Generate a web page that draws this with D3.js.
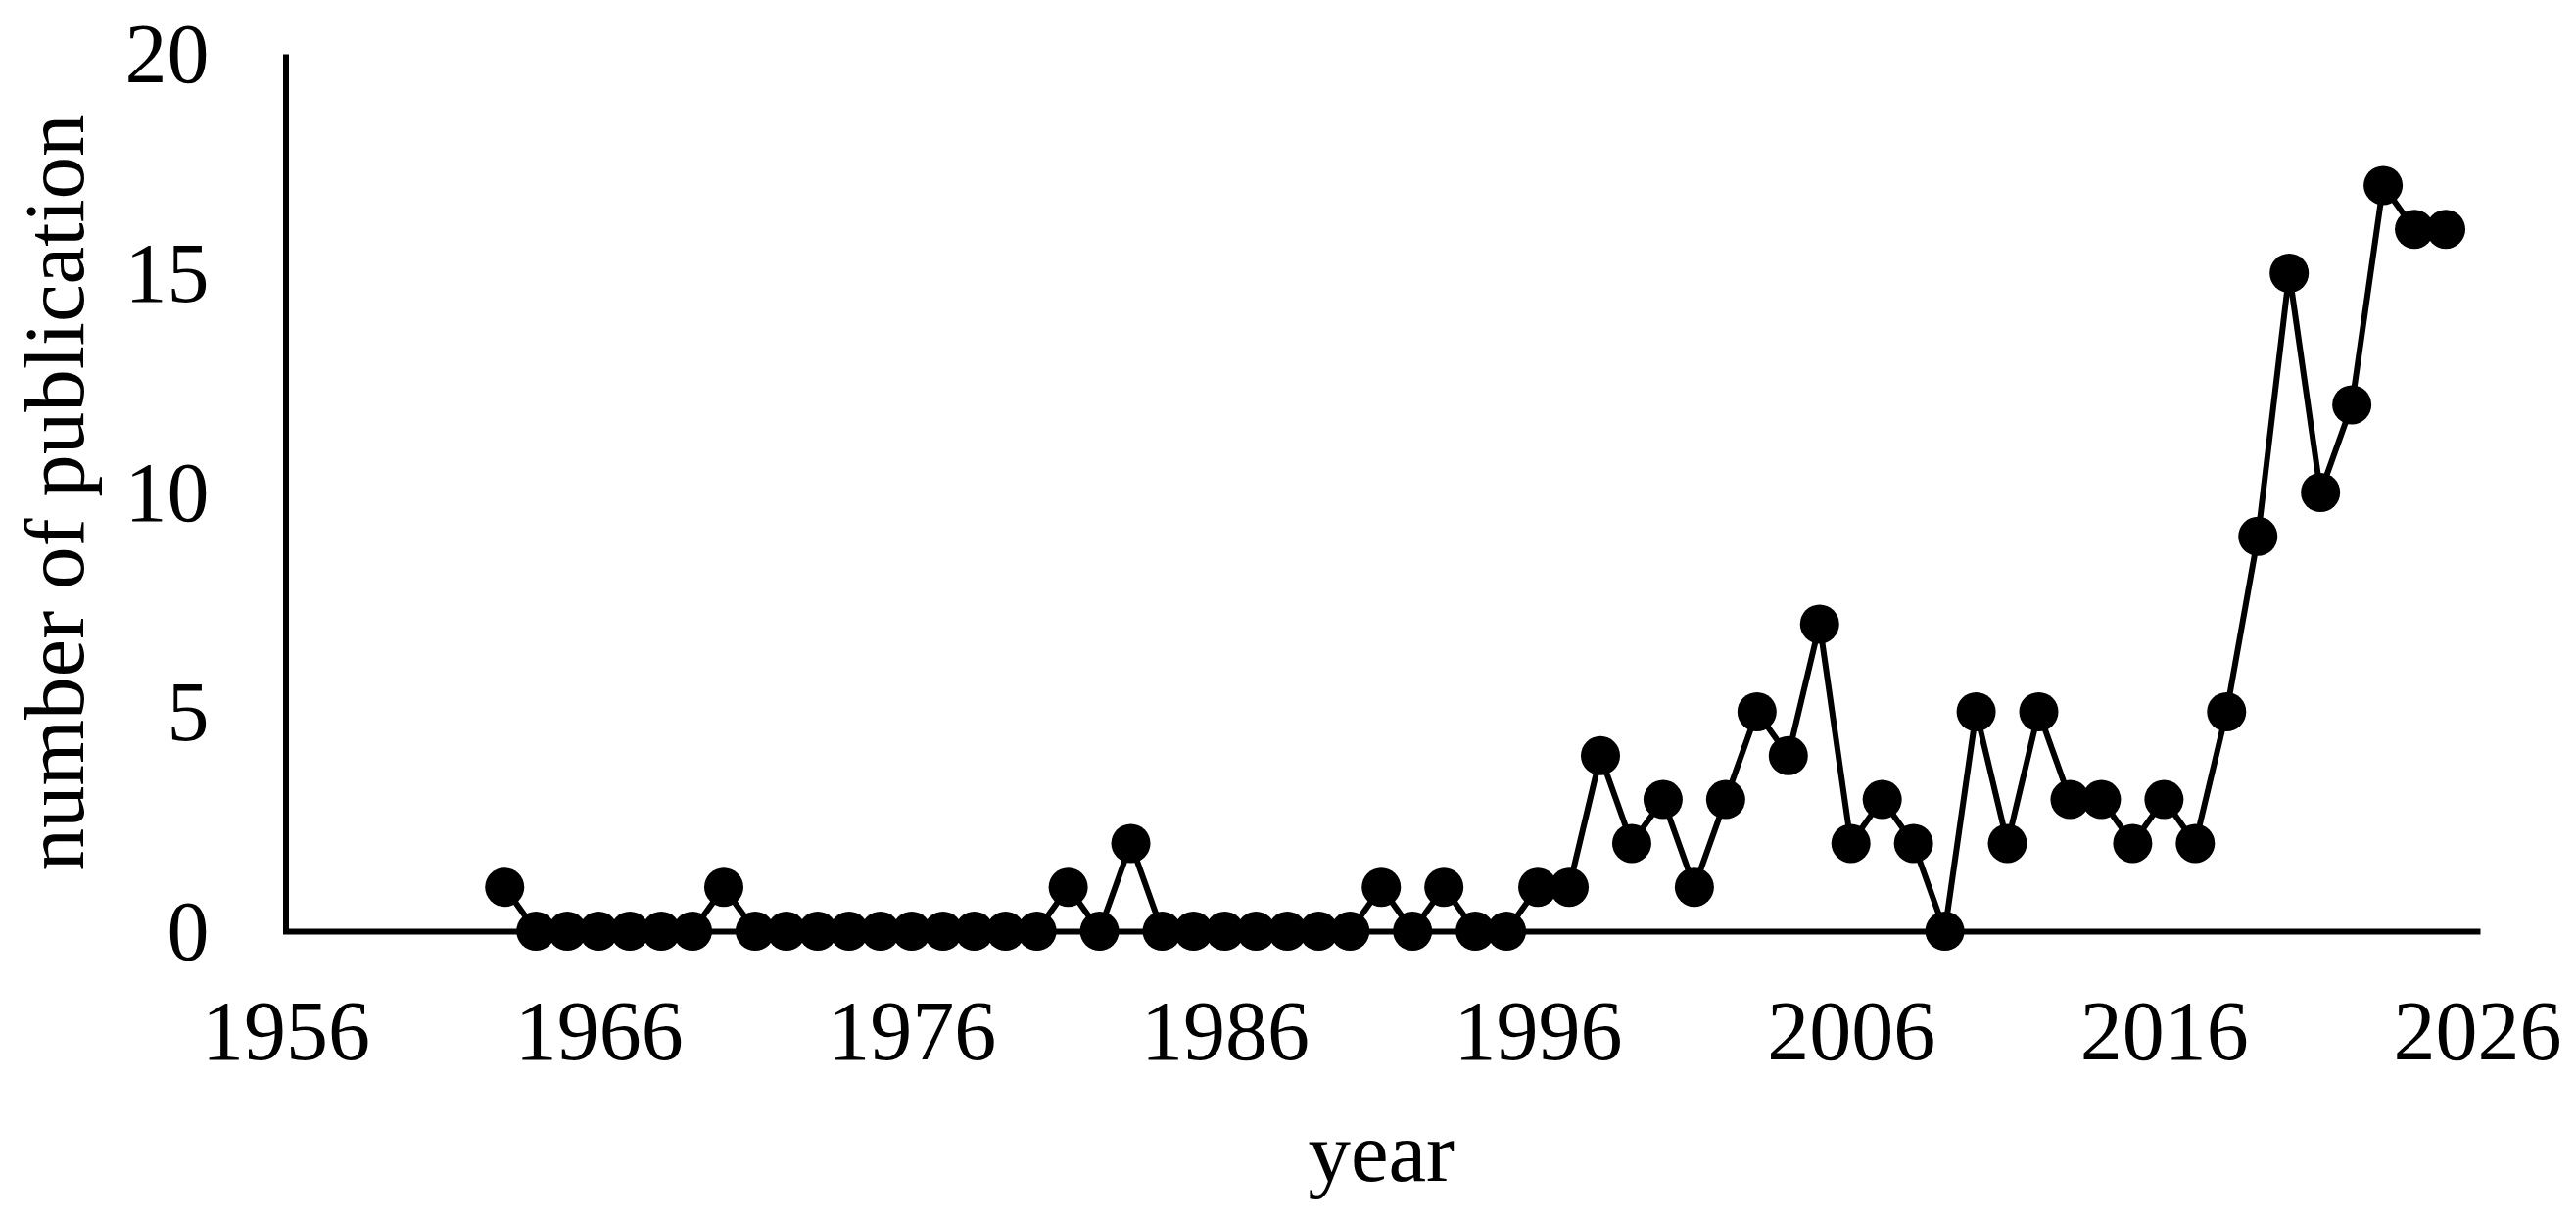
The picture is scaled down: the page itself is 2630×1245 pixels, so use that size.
<!DOCTYPE html>
<html>
<head>
<meta charset="utf-8">
<script src="https://cdn.jsdelivr.net/npm/d3@7"></script>
<style>
  html, body { margin: 0; padding: 0; background: #fff; }
  svg { display: block; }
  text { font-family: "Liberation Serif", "Times New Roman", serif; fill: #000; }
</style>
</head>
<body>
<script>
const years = [1963,1964,1965,1966,1967,1968,1969,1970,1971,1972,1973,1974,1975,1976,1977,1978,1979,1980,
  1981,1982,1983,1984,1985,1986,1987,1988,1989,1990,1991,1992,1993,1994,1995,1996,1997,1998,1999,2000,
  2001,2002,2003,2004,2005,2006,2007,2008,2009,2010,2011,2012,2013,2014,2015,2016,2017,2018,2019,2020,
  2021,2022,2023,2024,2025];
const publications = [1,0,0,0,0,0,0,1,0,0,0,0,0,0,0,0,0,0,
  1,0,2,0,0,0,0,0,0,0,1,0,1,0,0,1,1,4,2,3,
  1,3,5,4,7,2,3,2,0,5,2,5,3,3,2,3,2,5,9,15,
  10,12,17,16,16];
const xTicks = [1956,1966,1976,1986,1996,2006,2016,2026];
const yTicks = [0,5,10,15,20];
const xTitle = "year";
const yTitle = "number of publication";

const W = 2630, H = 1245;
const svg = d3.select("body").append("svg").attr("width", W).attr("height", H);
svg.append("rect").attr("width", W).attr("height", H).attr("fill", "#fff");

const x = d3.scaleLinear().domain([1956, 2026]).range([291.5, 2529]);
const y = d3.scaleLinear().domain([0, 20]).range([951, 55]);

const fs = 86;

// x axis
const gx = svg.append("g").attr("transform", `translate(0,${y(0)})`)
  .call(d3.axisBottom(x).tickValues(xTicks).tickFormat(d3.format("d")).tickSize(0).tickSizeOuter(0));
gx.select(".domain").attr("stroke", "#000").attr("stroke-width", 6).attr("stroke-linecap", "square");
gx.selectAll(".tick line").remove();
gx.selectAll(".tick text").attr("y", 131).attr("dy", null)
  .style("font-family", '"Liberation Serif", serif').style("font-size", fs + "px").attr("fill", "#000");

// y axis
const gy = svg.append("g").attr("transform", `translate(${x(1956)},0)`)
  .call(d3.axisLeft(y).tickValues(yTicks).tickSize(0).tickSizeOuter(0));
gy.select(".domain").attr("stroke", "#000").attr("stroke-width", 6);
gy.selectAll(".tick line").remove();
gy.selectAll(".tick text").attr("x", -78).attr("y", 28).attr("dy", null)
  .style("font-family", '"Liberation Serif", serif').style("font-size", fs + "px").attr("fill", "#000");

// titles
svg.append("text").attr("x", (x(1956) + x(2026)) / 2).attr("y", 1206)
  .attr("text-anchor", "middle").style("font-size", "87px").text(xTitle);
svg.append("text").attr("transform", `translate(85,${(y(0) + y(20)) / 2}) rotate(-90)`)
  .attr("text-anchor", "middle").style("font-size", "87px").text(yTitle);

const data = years.map((yr, i) => ({ yr, v: publications[i] }));

svg.append("path").datum(data)
  .attr("fill", "none").attr("stroke", "#000").attr("stroke-width", 6).attr("stroke-linejoin", "round")
  .attr("d", d3.line().x(d => x(d.yr)).y(d => y(d.v)));

svg.append("g").selectAll("circle").data(data).join("circle")
  .attr("cx", d => x(d.yr)).attr("cy", d => y(d.v)).attr("r", 20).attr("fill", "#000");
</script>
</body>
</html>
